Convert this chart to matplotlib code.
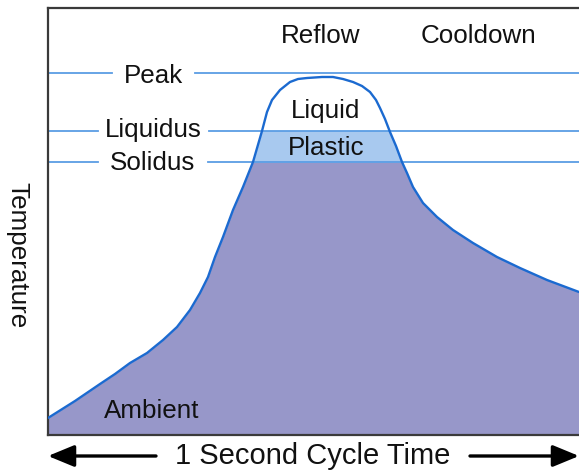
import matplotlib
matplotlib.use("Agg")
import matplotlib.pyplot as plt
from matplotlib.patches import Rectangle, FancyArrowPatch

plt.rcParams['font.family'] = ['Liberation Sans', 'DejaVu Sans']

# ---- data (time axis in arbitrary units across 1 s cycle, temperature in arbitrary units) ----
time = [0, 27, 52, 67, 82, 99, 115, 129, 142, 152, 160, 167, 175, 185, 195,
        205, 214, 219, 224, 232, 242, 250, 259, 274, 285, 295, 305, 314, 322,
        328, 332, 337, 342, 348, 354, 359, 365, 375, 389, 405, 425, 449, 472,
        499, 531]
temp = [17, 34, 51, 61, 72, 82, 95, 108, 125, 142, 158, 178, 198, 225, 248,
        273, 304, 323, 335, 345, 353, 356, 357, 358, 358, 356, 353, 349, 343,
        335, 327, 316, 303, 289, 273, 262, 248, 232, 218, 205, 192, 178, 167,
        155, 143]

level_names = ["Peak", "Liquidus", "Solidus"]
level_values = [362, 304, 273]

phase_labels = ["Reflow", "Cooldown"]
region_labels = ["Liquid", "Plastic", "Ambient"]
y_label = "Temperature"
x_label = "1 Second Cycle Time"

# ---- style ----
W, H = 579, 470
PURPLE = '#9797c9'
PLASTIC = '#a8c9ef'
CURVE = '#1b6ad0'
HLINE = '#5b9de4'
SPINE = '#3a3a3a'
FS = 18.7
FS_X = 21.0

fig = plt.figure(figsize=(W / 100, H / 100), dpi=100)
ax = fig.add_axes([48 / W, (H - 435) / H, 531 / W, 427 / H])
ax.set_xlim(0, 531)
ax.set_ylim(0, 427)
ax.set_xticks([])
ax.set_yticks([])
for s in ['left', 'top', 'bottom']:
    ax.spines[s].set_color(SPINE)
    ax.spines[s].set_linewidth(1.6)
ax.spines['right'].set_visible(False)

solidus = level_values[2]
liquidus = level_values[1]

purple = ax.fill_between(time, 0, temp, color=PURPLE, lw=0, zorder=1)
purple.set_clip_path(Rectangle((0, 0), 531, solidus, transform=ax.transData))
plastic = ax.fill_between(time, 0, temp, color=PLASTIC, lw=0, zorder=1)
plastic.set_clip_path(Rectangle((0, solidus), 531, liquidus - solidus,
                                transform=ax.transData))

# level lines with gaps for labels
label_cx = 105
gaps = [83, 111, 110]
baseline_off = [-10, -6, -8]
for name, lv, g, bo in zip(level_names, level_values, gaps, baseline_off):
    ax.plot([0, label_cx - g / 2], [lv, lv], color=HLINE, lw=1.3, zorder=2)
    ax.plot([label_cx + g / 2, 531], [lv, lv], color=HLINE, lw=1.3, zorder=2)
    ax.text(label_cx, lv + bo, name, ha='center', va='baseline', fontsize=FS,
            color='#111111')

ax.plot(time, temp, color=CURVE, lw=1.7, zorder=3, solid_capstyle='round',
        solid_joinstyle='round')

# phase labels
ax.text(321 - 48, H - 43 - 35, phase_labels[0], ha='center', va='baseline',
        fontsize=FS, color='#111111')
ax.text(478 - 48, H - 43 - 35, phase_labels[1], ha='center', va='baseline',
        fontsize=FS, color='#111111')

# region labels
ax.text(326 - 48, 435 - 118, region_labels[0], ha='center', va='baseline',
        fontsize=FS, color='#111111', zorder=4)
ax.text(326 - 48, 435 - 155, region_labels[1], ha='center', va='baseline',
        fontsize=FS, color='#111111', zorder=4)
ax.text(152 - 48, 435 - 418, region_labels[2], ha='center', va='baseline',
        fontsize=FS, color='#111111', zorder=4)

# y label (reads top to bottom)
fig.text(17 / W, 1 - 255 / H, y_label, rotation=-90, ha='center', va='center',
         fontsize=FS, color='#111111')

# x label with arrows
fig.text(313 / W, 1 - 464 / H, x_label, ha='center', va='baseline',
         fontsize=FS_X, color='#111111')
ay = 1 - 456 / H
arrow = dict(arrowstyle='-|>,head_length=0.8,head_width=0.33', color='black',
             lw=2.4, mutation_scale=20, shrinkA=0, shrinkB=0)
fig.add_artist(FancyArrowPatch((156 / W, ay), (48 / W, ay),
               transform=fig.transFigure, **arrow))
fig.add_artist(FancyArrowPatch((470 / W, ay), (579 / W, ay),
               transform=fig.transFigure, **arrow))

fig.savefig('out.png', dpi=100)
